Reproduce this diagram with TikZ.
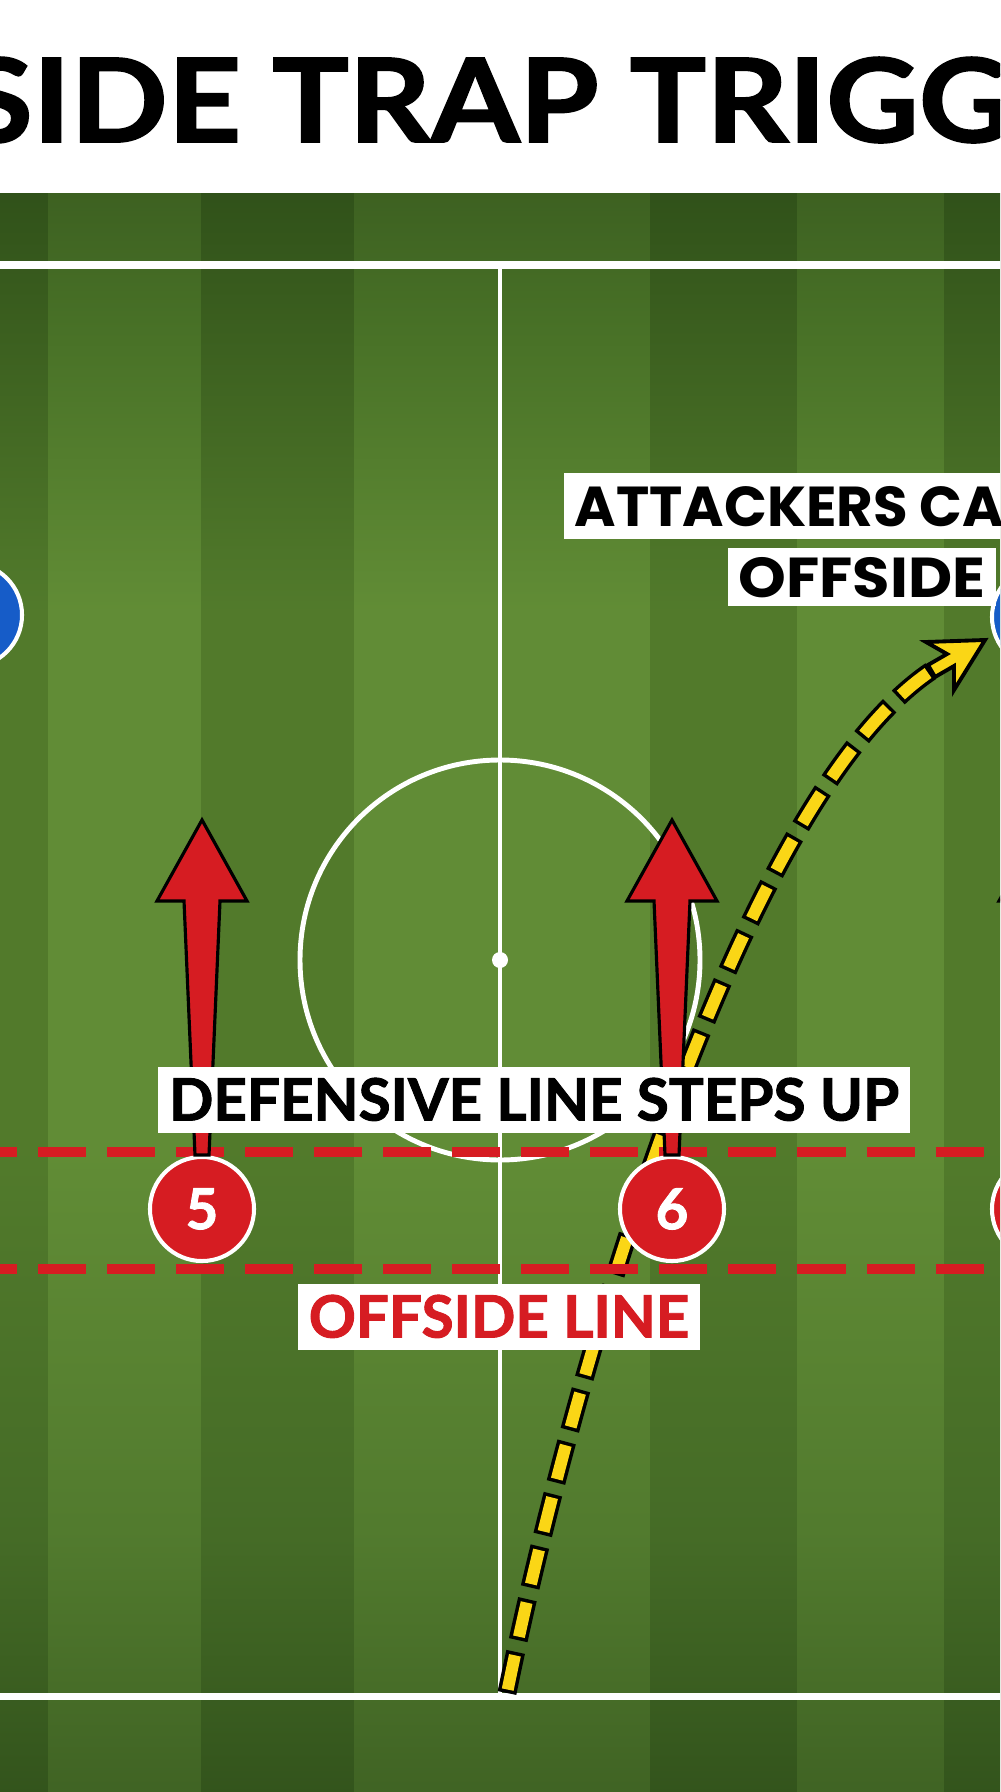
\documentclass[tikz,border=0pt]{standalone}
\usepackage{fontspec}
\setmainfont{Lato}[BoldFeatures={FakeBold=1.6}]
\newfontfamily\poppins{Poppins}
\usetikzlibrary{positioning}

\definecolor{pitchred}{RGB}{214,28,34}
\definecolor{pitchblue}{RGB}{22,92,200}
\definecolor{runyellow}{RGB}{250,214,22}

% grass stripes, bottom to top (the path covers 25bp to 75bp)
\pgfdeclareverticalshading{darkgrass}{100bp}{rgb(0bp)=(0.19,0.32,0.10); rgb(25bp)=(0.20,0.33,0.11); rgb(33bp)=(0.27,0.42,0.15); rgb(45bp)=(0.32,0.48,0.17); rgb(62bp)=(0.32,0.48,0.17); rgb(71bp)=(0.23,0.37,0.12); rgb(75bp)=(0.19,0.32,0.10); rgb(100bp)=(0.19,0.32,0.10)}
\pgfdeclareverticalshading{lightgrass}{100bp}{rgb(0bp)=(0.24,0.38,0.13); rgb(25bp)=(0.25,0.39,0.14); rgb(33bp)=(0.32,0.48,0.18); rgb(45bp)=(0.38,0.55,0.21); rgb(62bp)=(0.38,0.55,0.21); rgb(71bp)=(0.28,0.44,0.15); rgb(75bp)=(0.24,0.38,0.13); rgb(100bp)=(0.24,0.38,0.13)}

\begin{document}
\begin{tikzpicture}[x=0.01cm, y=-0.01cm,
  darkstripe/.style={shading=darkgrass},
  lightstripe/.style={shading=lightgrass},
  pitchline/.style={draw=white, line width=1.4pt},
  offsideline/.style={draw=pitchred, line width=2.6pt, dash pattern=on 0.48cm off 0.21cm},
  defender/.style={circle, fill=pitchred, draw=white, line width=1.15pt, minimum size=1.04cm, inner sep=0pt, text=white, font=\fontsize{16}{16}\selectfont\bfseries},
  attacker/.style={circle, fill=pitchblue, draw=white, line width=1.15pt, minimum size=1.04cm, inner sep=0pt},
  stepup/.style={fill=pitchred, draw=black, line width=0.9pt, line join=miter},
  runout/.style={draw=black, line width=0.19cm, dash pattern=on 0.42cm off 0.12cm},
  runfill/.style={draw=runyellow, line width=0.12cm, dash pattern=on 0.35cm off 0.19cm, dash phase=0.505cm},
  runhead/.style={fill=runyellow, draw=black, line width=1.1pt, line join=miter},
  tag/.style={fill=white, inner xsep=0.11cm, inner ysep=0.12cm, text height=0.41cm, text depth=0cm, font=\fontsize{16.6}{16.6}\selectfont\bfseries},
  widetag/.style={tag, font=\fontsize{16}{16}\selectfont\poppins\bfseries}]

  \useasboundingbox (0,0) rectangle (1000,1792);
  \clip (0,0) rectangle (1000,1792);

  % Header
  \fill[white] (0,0) rectangle (1000,194);
  \node[anchor=base west, inner sep=0pt, font=\fontsize{33}{33}\selectfont\bfseries] (title) at (-38,142) {\scalebox{1.1}[1]{\llap{OFF}SIDE TRAP TRIGGERED}};
  \draw[black!15, line width=0.6pt] (0,194) -- (1000,194);

  % Grass stripes
  \shade[darkstripe] (-110,194) rectangle (48,1792);
  \shade[lightstripe] (48,194) rectangle (201,1792);
  \shade[darkstripe] (201,194) rectangle (354,1792);
  \shade[lightstripe] (354,194) rectangle (650,1792);
  \shade[darkstripe] (650,194) rectangle (797,1792);
  \shade[lightstripe] (797,194) rectangle (944,1792);
  \shade[darkstripe] (944,194) rectangle (1100,1792);

  % Pitch markings
  \draw[pitchline, line width=2pt] (-10,265) -- (1010,265);
  \draw[pitchline, line width=2pt] (-10,1696) -- (1010,1696);
  \draw[pitchline] (500,265) -- (500,1696);
  \node[circle, fill=white, inner sep=0pt, minimum size=0.16cm] (spot) at (500,960) {};
  \draw[pitchline] (spot) circle[radius=200];

  % Attacker run
  \coordinate (R0) at (507,1693);
  \coordinate (R1) at (931,671);
  \coordinate (tip) at (985,640);
  \draw[runout] (R0) .. controls (575,1360) and (740,800) .. (R1);
  \draw[runfill] (R0) .. controls (575,1360) and (740,800) .. (R1);
  \filldraw[runhead, shift={(tip)}] (0,0) -- (-31,50) -- (-31,26) -- (-50,37) -- (-57,25) -- (-38,14) -- (-59,2) -- cycle;

  % Offside lines
  \draw[offsideline] (-31,1152) -- (1010,1152);
  \draw[offsideline] (-31,1269) -- (1010,1269);

  % Attackers
  \node[attacker] (A1) at (-30,615) {};
  \node[attacker] (A2) at (1044,617) {};

  % Defenders
  \node[defender] (D5) at (202,1209) {5};
  \node[defender] (D6) at (672,1209) {6};
  \node[defender] (D7) at (1044,1209) {};

  % Step-up arrows
  \foreach \p in {D5,D6,D7}
    \draw[stepup, shift={(\p.north)}] (-7,0) -- (-18,-254) -- (-45,-254) -- (0,-335) -- (45,-254) -- (18,-254) -- (7,0) -- cycle;

  % Labels
  \node[tag] (steps) at (534,1100) {DEFENSIVE LINE STEPS UP};
  \node[tag, text=pitchred] (offside) at (499,1317) {OFFSIDE LINE};
  \node[widetag, anchor=west] (caught) at (563,506) {ATTACKERS CAUGHT};
  \node[widetag, text height=0.40cm, inner ysep=0.085cm] (caughtb) at (862,577) {\scalebox{1.08}[1]{OFFSIDE}};

\end{tikzpicture}
\end{document}
